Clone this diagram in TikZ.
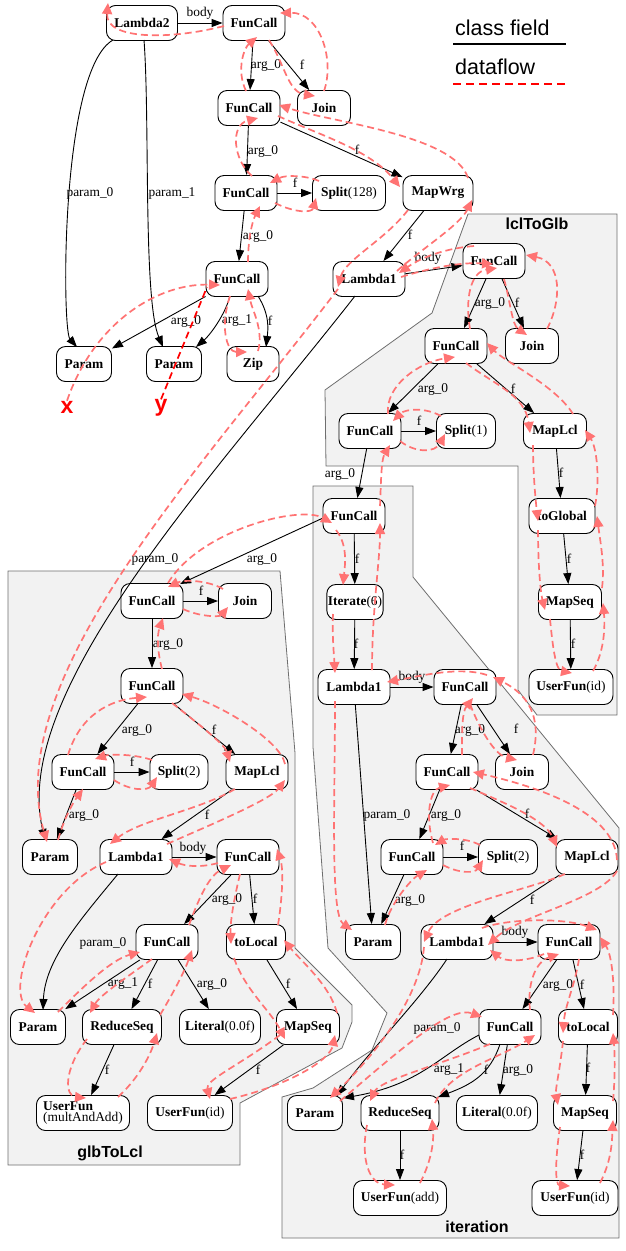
\documentclass[tikz,border=0pt]{standalone}
\usepackage{fontspec}
\setmainfont{Liberation Serif}
\newfontfamily\sfx{Liberation Sans}
\usetikzlibrary{arrows.meta,calc}
\definecolor{flowc}{RGB}{255,115,115}
\definecolor{clfill}{RGB}{242,242,242}
\definecolor{clline}{RGB}{110,110,110}
\tikzset{
 nd/.style={draw=black, line width=0.9pt, fill=white, rounded corners=9pt, minimum height=35pt, inner xsep=1pt, inner ysep=0pt, font=\fontsize{13.4}{14}\selectfont\bfseries},
 w/.style={minimum width=#1pt},
 cf/.style={draw=black, line width=0.9pt, -{Triangle[length=11pt,width=8pt]}},
 lbl/.style={font=\fontsize{13.4}{14}\selectfont, inner sep=0pt},
 flow/.style={draw=flowc, line width=1.7pt, dash pattern=on 7pt off 4pt, -{Triangle[length=11pt,width=10pt]}},
 yflow/.style={draw=red, line width=1.7pt, dash pattern=on 7pt off 4pt},
 clus/.style={fill=clfill, draw=clline, line width=0.8pt},
 clab/.style={font=\sfx\bfseries\fontsize{16}{18}\selectfont, inner sep=0pt},
 xyl/.style={font=\sfx\bfseries\fontsize{23}{24}\selectfont, text=red, inner sep=0pt},
 leg/.style={font=\sfx\fontsize{21.5}{24}\selectfont, inner sep=0pt, anchor=base west},
}
\newcommand\el[3]{\node[lbl] (#1) at (#2) {#3};}
\begin{document}
\begin{tikzpicture}[x=1pt,y=-1pt]
\useasboundingbox (0,0) rectangle (626,1251);
% clusters
\draw[clus] (468,214) -- (617,214) -- (617,715) -- (537,715) -- (518,690) -- (518,466) -- (326,466) -- (325,390) -- (432,313) -- cycle;
\draw[clus] (8,571) -- (280,571) -- (295,753) -- (295,948) -- (352,1005) -- (352,1022) -- (342,1048) -- (240,1103) -- (240,1165) -- (8,1165) -- cycle;
\draw[clus] (313,486) -- (413,486) -- (413,577) -- (619,828) -- (619,1238) -- (282,1238) -- (282,1097) -- (313,1088) -- (372,1050) -- (387,1013) -- (328,948) -- (313,747) -- cycle;
\node[clab] (cl1) at (537,224) {lclToGlb};
\node[clab] (cl2) at (110,1153) {glbToLcl};
\node[clab] (cl3) at (477,1227) {iteration};
% legend
\node[leg] (lg1) at (455,35) {class field};
\node[leg] (lg2) at (455,74) {dataflow};
\coordinate (la) at (453,44); \coordinate (lb) at (566,44);
\coordinate (lc) at (453,84); \coordinate (ld) at (566,84);
\draw[black, line width=1.4pt] (la) -- (lb);
\draw[red, line width=1.6pt, dash pattern=on 8pt off 5pt] (lc) -- (ld);
% top nodes
\node[nd,w=71] (lam2) at (142,23) {Lambda2};
\node[nd,w=62] (fc1) at (254,23) {FunCall};
\node[nd,w=53] (join1) at (324,108) {Join};
\node[nd,w=62] (fc2) at (249,108) {FunCall};
\node[nd,w=62] (fc3) at (246,193) {FunCall};
\node[nd,w=73] (split128) at (349,193) {Split\textmd{(128)}};
\node[nd,w=70] (mapwrg) at (438,193) {MapWrg};
\node[nd,w=62] (fc4) at (237,279) {FunCall};
\node[nd,w=55] (par1) at (84,364) {Param};
\node[nd,w=55] (par2) at (174,364) {Param};
\node[nd,w=52] (zip) at (253,364) {Zip};
\node[nd,w=72] (lam1a) at (369,279) {Lambda1};
\node[xyl] (xlab) at (67,407) {x};
\node[xyl] (ylab) at (161,408) {y};
% lclToGlb nodes
\node[nd,w=62] (lfc1) at (494,261) {FunCall};
\node[nd,w=53] (ljoin) at (532,346) {Join};
\node[nd,w=62] (lfc2) at (456,346) {FunCall};
\node[nd,w=62] (lfc3) at (370,431) {FunCall};
\node[nd,w=59] (lsplit) at (466,431) {Split\textmd{(1)}};
\node[nd,w=63] (lmap) at (555,431) {MapLcl};
\node[nd,w=66] (tog) at (562,516) {toGlobal};
\node[nd,w=63] (lmapseq) at (570,602) {MapSeq};
\node[nd,w=84] (luf) at (571,687) {UserFun\textmd{(id)}};
% iteration nodes
\node[nd,w=62] (ifc0) at (354,516) {FunCall};
\node[nd,w=55] (iter) at (355,602) {Iterate\textmd{(6)}};
\node[nd,w=72] (ilam) at (354,687) {Lambda1};
\node[nd,w=62] (ifc1) at (465,687) {FunCall};
\node[nd,w=62] (ifc2) at (447,772) {FunCall};
\node[nd,w=53] (ijoin) at (522,772) {Join};
\node[nd,w=62] (ifc3) at (412,857) {FunCall};
\node[nd,w=59] (isplit) at (508,857) {Split\textmd{(2)}};
\node[nd,w=62] (imaplcl) at (587,857) {MapLcl};
\node[nd,w=55] (ipar) at (373,942) {Param};
\node[nd,w=72] (ilam2) at (457,942) {Lambda1};
\node[nd,w=62] (ifc4) at (569,942) {FunCall};
\node[nd,w=62] (ifc5) at (510,1027) {FunCall};
\node[nd,w=59] (itol) at (588,1027) {toLocal};
\node[nd,w=55] (ipar2) at (315,1113) {Param};
\node[nd,w=78] (ired) at (400,1113) {ReduceSeq};
\node[nd,w=81] (ilit) at (497,1113) {Literal\textmd{(0.0f)}};
\node[nd,w=63] (imapseq) at (585,1113) {MapSeq};
\node[nd,w=93] (iufadd) at (400,1198) {UserFun\textmd{(add)}};
\node[nd,w=86] (iufid) at (575,1198) {UserFun\textmd{(id)}};
% glbToLcl nodes
\node[nd,w=62] (gfc1) at (152,601) {FunCall};
\node[nd,w=53] (gjoin) at (245,601) {Join};
\node[nd,w=62] (gfc2) at (152,686) {FunCall};
\node[nd,w=62] (gfc3) at (83,772) {FunCall};
\node[nd,w=58] (gsplit) at (179,772) {Split\textmd{(2)}};
\node[nd,w=62] (gmaplcl) at (257,772) {MapLcl};
\node[nd,w=55] (gpar) at (50,857) {Param};
\node[nd,w=72] (glam) at (136,857) {Lambda1};
\node[nd,w=62] (gfc4) at (248,857) {FunCall};
\node[nd,w=62] (gfc5) at (167,942) {FunCall};
\node[nd,w=59] (gtol) at (256,942) {toLocal};
\node[nd,w=55] (gpar2) at (38,1027) {Param};
\node[nd,w=79] (gred) at (122,1027) {ReduceSeq};
\node[nd,w=81] (glit) at (220,1027) {Literal\textmd{(0.0f)}};
\node[nd,w=63] (gmapseq) at (308,1027) {MapSeq};
\node[nd,w=93,align=left,font=\fontsize{13.4}{11}\selectfont\bfseries] (gufmul) at (83,1113) {UserFun\\\textmd{(multAndAdd)}};
\node[nd,w=85] (gufid) at (190,1113) {UserFun\textmd{(id)}};
% class-field edges: top
\draw[cf] (lam2) -- (fc1);
\draw[cf] ($(lam2)+(-29,17)$) .. controls (60,70) and (62,330) .. ($(par1)+(-7,-17)$);
\draw[cf] ($(lam2)+(2,17)$) .. controls (150,120) and (143,300) .. ($(par2)+(-11,-17)$);
\draw[cf] (fc1) -- (fc2);
\draw[cf] (fc1) -- (join1);
\draw[cf] (fc2) -- (fc3);
\draw[cf] (fc2) -- (mapwrg);
\draw[cf] (fc3) -- (split128);
\draw[cf] (fc3) -- (fc4);
\draw[cf] (fc4) -- (par1);
\draw[cf] ($(fc4)+(-7,17)$) .. controls (225,315) and (210,335) .. ($(par2)+(22,-17)$);
\draw[cf] ($(fc4)+(21,17)$) .. controls (270,315) and (268,330) .. ($(zip)+(13,-17)$);
\draw[cf] (mapwrg) -- (lam1a);
\draw[cf] (lam1a) -- (lfc1);
\draw[cf] ($(lam1a)+(-14,17)$) .. controls (215,475) and (10,690) .. ($(gpar)+(-5,-17)$);
% lclToGlb edges
\draw[cf] (lfc1) -- (lfc2);
\draw[cf] (lfc1) -- (ljoin);
\draw[cf] (lfc2) -- (lfc3);
\draw[cf] (lfc2) -- (lmap);
\draw[cf] (lfc3) -- (lsplit);
\draw[cf] (lmap) -- (tog);
\draw[cf] (tog) -- (lmapseq);
\draw[cf] (lmapseq) -- (luf);
\draw[cf] (lfc3) -- (ifc0);
% iteration edges
\draw[cf] ($(ifc0)+(-31,2)$) -- ($(gfc1)+(28,-17)$);
\draw[cf] (ifc0) -- (iter);
\draw[cf] (iter) -- (ilam);
\draw[cf] (ilam) -- (ifc1);
\draw[cf] (ilam) -- (ipar);
\draw[cf] (ifc1) -- (ifc2);
\draw[cf] (ifc1) -- (ijoin);
\draw[cf] (ifc2) -- (ifc3);
\draw[cf] (ifc2) -- (imaplcl);
\draw[cf] (ifc3) -- (isplit);
\draw[cf] (ifc3) -- (ipar);
\draw[cf] (imaplcl) -- (ilam2);
\draw[cf] (ilam2) -- (ifc4);
\draw[cf] (ifc4) -- (ifc5);
\draw[cf] (ifc4) -- (itol);
\draw[cf] (ifc5) -- (ilit);
\draw[cf] (itol) -- (imapseq);
\draw[cf] (imapseq) -- (iufid);
\draw[cf] (ired) -- (iufadd);
\draw[cf] ($(ilam2)+(-10,17)$) .. controls (420,1000) and (370,1050) .. ($(ipar2)+(22,-17)$);
\draw[cf] ($(ifc5)+(-31,8)$) .. controls (440,1055) and (420,1085) .. ($(ipar2)+(28,-15)$);
\draw[cf] ($(ifc5)+(-10,17)$) .. controls (490,1075) and (470,1085) .. ($(ired)+(38,-16)$);
% glbToLcl edges
\draw[cf] (gfc1) -- (gjoin);
\draw[cf] (gfc1) -- (gfc2);
\draw[cf] (gfc2) -- (gfc3);
\draw[cf] (gfc2) -- (gmaplcl);
\draw[cf] (gfc3) -- (gsplit);
\draw[cf] (gfc3) -- (gpar);
\draw[cf] (gmaplcl) -- (glam);
\draw[cf] (glam) -- (gfc4);
\draw[cf] (gfc4) -- (gfc5);
\draw[cf] (gfc4) -- (gtol);
\draw[cf] (gfc5) -- (gpar2);
\draw[cf] (gfc5) -- (gred);
\draw[cf] (gfc5) -- (glit);
\draw[cf] (gtol) -- (gmapseq);
\draw[cf] (gred) -- (gufmul);
\draw[cf] (gmapseq) -- (gufid);
\draw[cf] ($(glam)+(-18,17)$) .. controls (80,920) and (45,960) .. ($(gpar2)+(5,-17)$);
% edge labels
\el{e1}{200,13}{body} \el{e2}{90,193}{param\_0} \el{e3}{172,193}{param\_1}
\el{e4}{266,65}{arg\_0} \el{e5}{302,65}{f} \el{e6}{263,151}{arg\_0}
\el{e7}{357,150}{f} \el{e8}{295,183}{f} \el{e9}{258,236}{arg\_0}
\el{e10}{186,321}{arg\_0} \el{e11}{237,321}{arg\_1} \el{e12}{270,321}{f}
\el{e13}{410,235}{f} \el{e14}{428,258}{body} \el{e15}{155,559}{param\_0}
\el{e16}{490,303}{arg\_0} \el{e17}{517,303}{f} \el{e18}{433,389}{arg\_0}
\el{e19}{513,389}{f} \el{e20}{419,421}{f} \el{e21}{340,474}{arg\_0}
\el{e22}{561,473}{f} \el{e23}{569,559}{f} \el{e24}{573,644}{f}
\el{e25}{262,559}{arg\_0} \el{e26}{357,559}{f} \el{e27}{356,644}{f}
\el{e28}{412,677}{body} \el{e29}{387,815}{param\_0} \el{e30}{470,730}{arg\_0}
\el{e31}{516,729}{f} \el{e32}{446,815}{arg\_0} \el{e33}{527,814}{f}
\el{e34}{462,846}{f} \el{e35}{410,900}{arg\_0} \el{e36}{532,900}{f}
\el{e37}{515,932}{body} \el{e38}{437,1028}{param\_0} \el{e39}{558,985}{arg\_0}
\el{e40}{582,985}{f} \el{e41}{449,1070}{arg\_1} \el{e42}{486,1070}{f}
\el{e43}{518,1070}{arg\_0} \el{e44}{588,1068}{f} \el{e45}{402,1155}{f}
\el{e46}{582,1155}{f}
\el{e47}{201,591}{f} \el{e48}{168,644}{arg\_0} \el{e49}{137,730}{arg\_0}
\el{e50}{214,730}{f} \el{e51}{132,762}{f} \el{e52}{84,815}{arg\_0}
\el{e53}{207,815}{f} \el{e54}{193,848}{body} \el{e55}{227,899}{arg\_0}
\el{e56}{255,899}{f} \el{e57}{103,943}{param\_0} \el{e58}{123,984}{arg\_1}
\el{e59}{150,984}{f} \el{e60}{212,984}{arg\_0} \el{e61}{288,984}{f}
\el{e62}{107,1070}{f} \el{e63}{258,1070}{f}
% dataflow: top
\draw[flow] (xlab.north) .. controls (95,320) and (160,283) .. ($(fc4)+(-17,6)$);
\draw[yflow] (ylab.north) -- ($(fc4)+(-30,8)$);
\draw[flow] ($(fc4)+(-7,17)$) .. controls (220,325) and (226,352) .. ($(zip)+(-6,-12)$);
\draw[flow] ($(zip)+(5,-13)$) .. controls (264,330) and (252,310) .. ($(fc4)+(11,10)$);
\draw[flow] ($(fc4)+(11,-17)$) .. controls (248,240) and (252,222) .. ($(fc3)+(14,13)$);
\draw[flow] ($(fc3)+(29,10)$) .. controls (295,213) and (312,213) .. ($(split128)+(-33,5)$);
\draw[flow] ($(split128)+(-30,-12)$) .. controls (305,175) and (285,175) .. ($(fc3)+(24,-10)$);
\draw[flow] ($(fc3)+(6,-17)$) .. controls (233,160) and (230,125) .. ($(fc2)+(9,10)$);
\draw[flow] ($(fc2)+(29,8)$) .. controls (320,135) and (370,150) .. ($(mapwrg)+(-38,-6)$);
\draw[flow] ($(mapwrg)+(30,-15)$) .. controls (455,135) and (330,122) .. ($(fc2)+(30,-3)$);
\draw[flow] ($(fc2)+(-3,-17)$) .. controls (236,70) and (244,48) .. ($(fc1)+(3,14)$);
\draw[flow] ($(fc1)+(15,17)$) .. controls (285,65) and (288,92) .. ($(join1)+(-9,-12)$);
\draw[flow] ($(join1)+(0,-17)$) .. controls (335,60) and (320,12) .. ($(fc1)+(26,-10)$);
\draw[flow] ($(fc1)+(-30,3)$) .. controls (170,40) and (105,40) .. ($(lam2)+(-34,-20)$);
\draw[flow] ($(mapwrg)+(-30,17)$) .. controls (385,240) and (345,260) .. ($(lam1a)+(-31,8)$);
\draw[flow] ($(lam1a)+(28,-8)$) .. controls (420,250) and (460,225) .. ($(mapwrg)+(34,7)$);
\draw[flow] ($(lfc1)+(-20,-15)$) .. controls (450,248) and (425,255) .. ($(lam1a)+(30,-6)$);
\draw[flow] ($(lam1a)+(32,-2)$) .. controls (430,268) and (460,262) .. ($(lfc1)+(-1,3)$);
\draw[flow] ($(lam1a)+(-31,10)$) .. controls (200,470) and (0,680) .. ($(gpar)+(-3,-15)$);
% dataflow: lclToGlb
\draw[flow] ($(lfc1)+(10,18)$) .. controls (510,300) and (512,325) .. ($(ljoin)+(-5,-11)$);
\draw[flow] ($(lmap)+(18,-17)$) .. controls (555,385) and (505,362) .. ($(lfc2)+(31,-3)$);
\draw[flow] ($(lfc2)+(14,-17)$) .. controls (465,300) and (470,272) .. ($(lfc1)+(3,7)$);
\draw[flow] ($(ljoin)+(15,-17)$) .. controls (562,300) and (562,262) .. ($(lfc1)+(32,-6)$);
\draw[flow] ($(lfc2)+(10,17)$) .. controls (495,385) and (525,395) .. ($(lmap)+(-25,2)$);
\draw[flow] ($(tog)+(33,-10)$) .. controls (600,480) and (597,448) .. ($(lmap)+(30,-1)$);
\draw[flow] ($(lmap)+(-22,14)$) .. controls (533,470) and (535,495) .. ($(tog)+(-24,5)$);
\draw[flow] ($(tog)+(-24,14)$) .. controls (538,560) and (540,590) .. ($(lmapseq)+(-25,8)$);
\draw[flow] ($(lmapseq)+(-20,17)$) .. controls (553,650) and (556,670) .. ($(luf)+(1,-14)$);
\draw[flow] ($(luf)+(22,-16)$) .. controls (605,650) and (605,625) .. ($(lmapseq)+(33,1)$);
\draw[flow] ($(lmapseq)+(32,-14)$) .. controls (605,565) and (600,540) .. ($(tog)+(35,0)$);
\draw[flow] ($(lsplit)+(-25,-15)$) .. controls (425,407) and (405,409) .. ($(lfc3)+(23,-10)$);
\draw[flow] ($(lfc3)+(30,10)$) .. controls (415,453) and (435,453) .. ($(lsplit)+(-21,3)$);
\draw[flow] ($(lfc3)+(18,-17)$) .. controls (385,385) and (420,362) .. ($(lfc2)+(-1,11)$);
\draw[flow] ($(ifc0)+(26,-10)$) .. controls (381,485) and (381,460) .. ($(lfc3)+(20,14)$);
% dataflow: iteration
\draw[flow] ($(ilam)+(18,-17)$) .. controls (372,610) and (380,560) .. ($(ifc0)+(26,7)$);
\draw[flow] ($(gfc1)+(16,-18)$) .. controls (200,530) and (300,505) .. ($(ifc0)+(-22,7)$);
\draw[flow] ($(ifc0)+(-18,14)$) .. controls (348,545) and (345,565) .. ($(iter)+(-12,-17)$);
\draw[flow] ($(iter)+(-22,12)$) .. controls (332,635) and (334,655) .. ($(ilam)+(-19,-14)$);
\draw[flow] ($(ilam)+(-19,14)$) .. controls (335,800) and (330,915) .. ($(ipar)+(-21,-12)$);
\draw[flow] ($(ifc1)+(22,-12)$) .. controls (460,666) and (420,676) .. ($(ilam)+(33,-5)$);
\draw[flow] ($(ijoin)+(11,-17)$) .. controls (540,725) and (535,698) .. ($(ifc1)+(28,-10)$);
\draw[flow] ($(ifc2)+(15,-17)$) .. controls (462,730) and (462,712) .. ($(ifc1)+(8,11)$);
\draw[flow] ($(ifc1)+(5,17)$) .. controls (480,730) and (495,755) .. ($(ijoin)+(-5,-12)$);
\draw[flow] ($(ifc3)+(21,-14)$) .. controls (425,815) and (430,790) .. ($(ifc2)+(3,13)$);
\draw[flow] ($(ifc2)+(23,16)$) .. controls (510,805) and (545,820) .. ($(imaplcl)+(-30,-10)$);
\draw[flow] ($(imaplcl)+(30,3)$) .. controls (615,810) and (530,785) .. ($(ifc2)+(26,0)$);
\draw[flow] ($(isplit)+(-28,-12)$) .. controls (465,837) and (445,839) .. ($(ifc3)+(23,-12)$);
\draw[flow] ($(ifc3)+(31,8)$) .. controls (460,874) and (475,873) .. ($(isplit)+(-25,3)$);
\draw[flow] ($(ipar)+(12,-17)$) .. controls (390,905) and (410,880) .. ($(ifc3)+(15,13)$);
\draw[flow] ($(imaplcl)+(-22,17)$) .. controls (530,890) and (440,905) .. ($(ilam2)+(-33,0)$);
\draw[flow] ($(imaplcl)+(30,14)$) .. controls (600,900) and (520,915) .. ($(ilam2)+(31,3)$);
\draw[flow] ($(ifc4)+(-25,12)$) .. controls (525,962) and (505,962) .. ($(ilam2)+(33,8)$);
\draw[flow] ($(ilam2)+(25,-14)$) .. controls (510,918) and (565,918) .. ($(ifc4)+(28,-12)$);
\draw[flow] ($(ifc5)+(20,-17)$) .. controls (527,985) and (535,962) .. ($(ifc4)+(-10,12)$);
\draw[flow] ($(ifc4)+(10,17)$) .. controls (575,985) and (565,1005) .. ($(itol)+(-25,6)$);
\draw[flow] ($(itol)+(-25,14)$) .. controls (560,1070) and (555,1090) .. ($(imapseq)+(-27,-8)$);
\draw[flow] ($(imapseq)+(-25,14)$) .. controls (555,1160) and (555,1185) .. ($(iufid)+(-5,-12)$);
\draw[flow] ($(iufid)+(25,-15)$) .. controls (612,1160) and (612,1140) .. ($(imapseq)+(28,7)$);
\draw[flow] ($(imapseq)+(28,-12)$) .. controls (615,1080) and (615,1055) .. ($(itol)+(25,6)$);
\draw[flow] ($(itol)+(25,-12)$) .. controls (615,985) and (612,955) .. ($(ifc4)+(31,-5)$);
\draw[flow] ($(ilam2)+(-33,5)$) .. controls (420,1000) and (370,1060) .. ($(ipar2)+(15,-15)$);
\draw[flow] ($(ipar2)+(25,-12)$) .. controls (400,1050) and (450,1005) .. ($(ifc5)+(-28,-10)$);
\draw[flow] ($(ifc5)+(-20,17)$) .. controls (440,1065) and (380,1080) .. ($(ired)+(-30,-12)$);
\draw[flow] ($(ired)+(-33,12)$) .. controls (360,1160) and (370,1184) .. ($(iufadd)+(-5,-13)$);
\draw[flow] ($(iufadd)+(20,-15)$) .. controls (432,1160) and (434,1140) .. ($(ired)+(32,6)$);
\draw[flow] ($(ired)+(35,-10)$) .. controls (450,1070) and (500,1058) .. ($(ifc5)+(25,8)$);
% dataflow: glbToLcl
\draw[flow] ($(gjoin)+(-22,-12)$) .. controls (210,581) and (185,579) .. ($(gfc1)+(16,-14)$);
\draw[flow] ($(gfc1)+(31,8)$) .. controls (200,617) and (220,617) .. ($(gjoin)+(-17,6)$);
\draw[flow] ($(gfc2)+(10,-17)$) .. controls (157,650) and (157,635) .. ($(gfc1)+(11,17)$);
\draw[flow] ($(gfc2)+(20,17)$) .. controls (200,725) and (225,745) .. ($(gmaplcl)+(-27,-10)$);
\draw[flow] ($(gmaplcl)+(28,-8)$) .. controls (280,740) and (220,705) .. ($(gfc2)+(30,8)$);
\draw[flow] ($(gfc3)+(-15,-17)$) .. controls (80,715) and (110,700) .. ($(gfc2)+(-5,11)$);
\draw[flow] ($(gsplit)+(-27,-12)$) .. controls (135,754) and (110,754) .. ($(gfc3)+(12,-13)$);
\draw[flow] ($(gfc3)+(31,8)$) .. controls (130,791) and (148,791) .. ($(gsplit)+(-22,5)$);
\draw[flow] ($(gpar)+(8,-17)$) .. controls (65,815) and (75,800) .. ($(gfc3)+(0,17)$);
\draw[flow] ($(gmaplcl)+(-22,17)$) .. controls (200,810) and (140,820) .. ($(glam)+(-26,-13)$);
\draw[flow] ($(glam)+(31,-13)$) .. controls (210,825) and (270,800) .. ($(gmaplcl)+(28,8)$);
\draw[flow] ($(gfc4)+(-30,6)$) .. controls (200,868) and (185,866) .. ($(glam)+(33,2)$);
\draw[flow] ($(gtol)+(22,-17)$) .. controls (282,900) and (284,870) .. ($(gfc4)+(29,-8)$);
\draw[flow] ($(gfc4)+(-8,17)$) .. controls (235,895) and (230,920) .. ($(gtol)+(-25,2)$);
\draw[flow] ($(gmapseq)+(29,-14)$) .. controls (330,985) and (300,960) .. ($(gtol)+(28,-2)$);
\draw[flow] ($(gtol)+(-22,16)$) .. controls (245,990) and (270,1010) .. ($(gmapseq)+(-23,12)$);
\draw[flow] ($(gmapseq)+(-28,8)$) .. controls (240,1065) and (205,1080) .. ($(gufid)+(20,-14)$);
\draw[flow] ($(gufid)+(40,-14)$) .. controls (290,1085) and (330,1060) .. ($(gmapseq)+(27,8)$);
\draw[flow] ($(gfc5)+(22,-17)$) .. controls (200,895) and (210,875) .. ($(gfc4)+(-17,8)$);
\draw[flow] ($(glam)+(-30,5)$) .. controls (40,890) and (5,990) .. ($(gpar2)+(-3,-14)$);
\draw[flow] ($(gpar2)+(20,-15)$) .. controls (80,990) and (110,960) .. ($(gfc5)+(-27,10)$);
\draw[flow] ($(gfc5)+(-15,17)$) .. controls (130,975) and (100,995) .. ($(gred)+(-32,-14)$);
\draw[flow] ($(gred)+(-35,12)$) .. controls (63,1070) and (65,1096) .. ($(gufmul)+(3,-15)$);
\draw[flow] ($(gufmul)+(35,-16)$) .. controls (142,1075) and (152,1050) .. ($(gred)+(35,6)$);
\draw[flow] ($(gred)+(38,-12)$) .. controls (175,990) and (185,970) .. ($(gfc5)+(25,8)$);
\end{tikzpicture}
\end{document}
